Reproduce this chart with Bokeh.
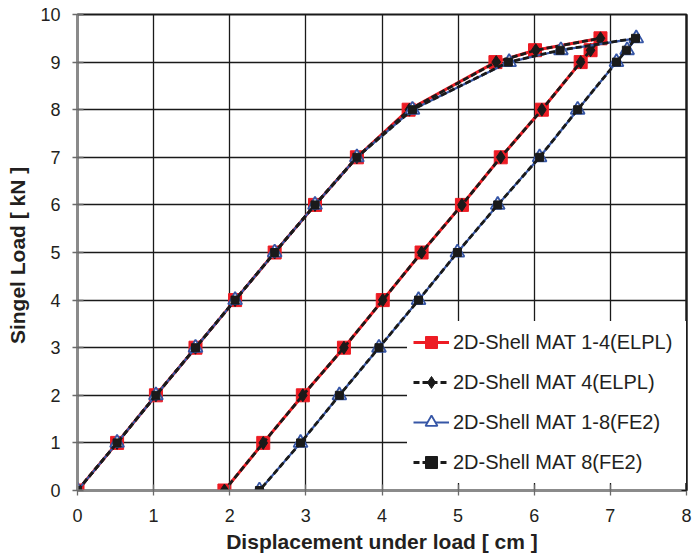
from bokeh.plotting import figure
from bokeh.models import Legend, LegendItem, LinearAxis, FixedTicker, Range1d
from bokeh.embed import file_html
from bokeh.resources import INLINE

# Load levels (kN): loading branch then unloading branch
load_y = [0, 1, 2, 3, 4, 5, 6, 7, 8, 9, 9.25, 9.5, 9.25, 9, 8, 7, 6, 5, 4, 3, 2, 1, 0]

# Displacements (cm)
mat14_elpl_x = [0, 0.52, 1.03, 1.55, 2.07, 2.59, 3.12, 3.67, 4.35, 5.49, 6.01, 6.87,
                6.74, 6.61, 6.10, 5.56, 5.05, 4.52, 4.01, 3.50, 2.96, 2.44, 1.93]
mat4_elpl_x = [0, 0.52, 1.03, 1.55, 2.07, 2.59, 3.12, 3.67, 4.36, 5.50, 6.02, 6.87,
               6.74, 6.61, 6.10, 5.56, 5.05, 4.52, 4.01, 3.50, 2.96, 2.44, 1.93]
mat18_fe2_x = [0, 0.52, 1.03, 1.55, 2.07, 2.59, 3.12, 3.67, 4.40, 5.67, 6.35, 7.34,
               7.22, 7.08, 6.57, 6.07, 5.52, 4.99, 4.48, 3.96, 3.44, 2.93, 2.39]
mat8_fe2_x = [0, 0.52, 1.03, 1.55, 2.07, 2.59, 3.12, 3.67, 4.40, 5.66, 6.34, 7.33,
              7.21, 7.08, 6.57, 6.07, 5.52, 4.99, 4.48, 3.96, 3.44, 2.93, 2.39]

x_ticks = [0, 1, 2, 3, 4, 5, 6, 7, 8]
y_ticks = [0, 1, 2, 3, 4, 5, 6, 7, 8, 9, 10]

labels = ["2D-Shell MAT 1-4(ELPL)", "2D-Shell MAT 4(ELPL)",
          "2D-Shell MAT 1-8(FE2)", "2D-Shell MAT 8(FE2)"]

FONT = "Liberation Sans"
TXT = "#231f20"
RED = "#ed1c24"
BLUE = "#3656a6"
BLK = "#1a1a1a"

p = figure(width=692, height=556, x_range=Range1d(0, 8), y_range=Range1d(0, 10),
           output_backend="svg", toolbar_location=None,
           min_border_left=77, min_border_right=6, min_border_top=14, min_border_bottom=66)

p.outline_line_color = BLK
p.outline_line_width = 2
p.background_fill_color = "white"

for g, t in ((p.xgrid, x_ticks), (p.ygrid, y_ticks)):
    g.ticker = FixedTicker(ticks=t)
    g.grid_line_color = BLK
    g.grid_line_width = 1.3

for ax, t in ((p.xaxis[0], x_ticks), (p.yaxis[0], y_ticks)):
    ax.ticker = FixedTicker(ticks=t)
    ax.axis_line_color = "#8a8a8a"
    ax.axis_line_width = 2
    ax.major_tick_line_color = "#6a6a6a"
    ax.major_tick_line_width = 1.3
    ax.major_tick_in = 6
    ax.major_tick_out = 5
    ax.minor_tick_line_color = None
    ax.major_label_text_font = FONT
    ax.major_label_text_font_size = "18px"
    ax.major_label_text_color = TXT
    ax.axis_label_text_font = FONT
    ax.axis_label_text_font_size = "21px"
    ax.axis_label_text_font_style = "bold"
    ax.axis_label_text_color = TXT

p.xaxis[0].axis_label = "Displacement under load [ cm ]"
p.xaxis[0].major_label_standoff = 13
p.xaxis[0].axis_label_standoff = 5
p.yaxis[0].axis_label = "Singel Load  [ kN ]"
p.yaxis[0].major_label_standoff = 12
p.yaxis[0].axis_label_standoff = 8

right = LinearAxis(ticker=FixedTicker(ticks=y_ticks),
                   major_label_overrides={t: "" for t in y_ticks})
right.axis_line_color = BLK
right.axis_line_width = 2
right.major_tick_line_color = BLK
right.major_tick_in = 5
right.major_tick_out = 0
right.minor_tick_line_color = None
right.major_label_standoff = 0
p.add_layout(right, "right")

r1l = p.line(mat14_elpl_x, load_y, line_color=RED, line_width=3)
r1m = p.scatter(mat14_elpl_x, load_y, marker="square", size=13, fill_color=RED,
                line_color=RED, line_width=1)

r2l = p.line(mat4_elpl_x, load_y, line_color=BLK, line_width=2.8, line_dash="6 3")
r2m = p.scatter(mat4_elpl_x, load_y, marker="diamond", size=13, fill_color=BLK,
                line_color=BLK)

r3l = p.line(mat18_fe2_x, load_y, line_color=BLUE, line_width=2.2)
r3m = p.scatter(mat18_fe2_x, load_y, marker="triangle", size=14, fill_color="white",
                line_color=BLUE, line_width=1.8)

r4l = p.line(mat8_fe2_x, load_y, line_color=BLK, line_width=2.8, line_dash="6 3")
r4m = p.scatter(mat8_fe2_x, load_y, marker="square", size=8, fill_color=BLK,
                line_color=BLK)

legend = Legend(items=[
    LegendItem(label=labels[0], renderers=[r1l, r1m]),
    LegendItem(label=labels[1], renderers=[r2l, r2m]),
    LegendItem(label=labels[2], renderers=[r3l, r3m]),
    LegendItem(label=labels[3], renderers=[r4l, r4m]),
], location=(330, 7))
legend.margin = 0
legend.padding = 6
legend.spacing = 10
legend.glyph_height = 30
legend.glyph_width = 36
legend.label_height = 30
legend.label_width = 227
legend.label_standoff = 4
legend.label_text_font = FONT
legend.label_text_font_size = "20px"
legend.label_text_color = TXT
legend.background_fill_color = "white"
legend.background_fill_alpha = 1
legend.border_line_alpha = 0
p.add_layout(legend, "center")

open("out.html", "w").write(file_html(p, INLINE))
